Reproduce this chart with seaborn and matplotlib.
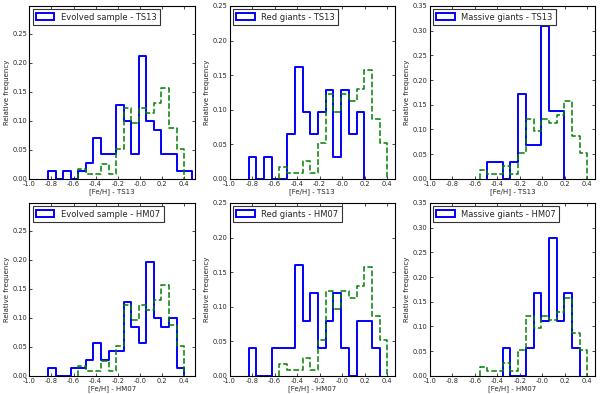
import numpy as np
import pandas as pd
import matplotlib
matplotlib.use('Agg')
import matplotlib.pyplot as plt
from matplotlib.patches import Patch
import seaborn as sns

# common [Fe/H] bin grid
bin_lo, bin_hi, n_bins = -0.83, 0.47, 19

# comparison sample (green dashed), the same in all panels
ref_freq = [0, 0, 0, 0, 0.017, 0.009, 0.009, 0.026, 0.009, 0.052, 0.122, 0.096,
            0.122, 0.113, 0.130, 0.157, 0.087, 0.052, 0]

evolved_ts13 = [0.014, 0, 0.014, 0, 0.014, 0.028, 0.070, 0.042, 0.042, 0.127,
                0.099, 0.042, 0.211, 0.099, 0.085, 0.042, 0.042, 0.014, 0.014]
red_ts13 = [0.032, 0, 0.032, 0, 0, 0.065, 0.161, 0.097, 0.065, 0.097,
            0.129, 0.032, 0.129, 0.065, 0.097, 0, 0, 0, 0]
massive_ts13 = [0, 0, 0, 0, 0, 0.034, 0.034, 0, 0.034, 0.172,
                0.069, 0.069, 0.310, 0.138, 0.138, 0, 0, 0, 0]
evolved_hm07 = [0.014, 0, 0, 0.014, 0.014, 0.028, 0.056, 0.028, 0.042, 0.042,
                0.127, 0.085, 0.056, 0.197, 0.099, 0.085, 0.099, 0.014, 0]
red_hm07 = [0.04, 0, 0, 0.04, 0.04, 0.04, 0.16, 0.08, 0.12, 0.04,
            0.08, 0.12, 0.04, 0, 0.08, 0.08, 0.04, 0, 0]
massive_hm07 = [0, 0, 0, 0, 0, 0, 0, 0.056, 0, 0,
                0.056, 0.167, 0.111, 0.278, 0.111, 0.167, 0.056, 0, 0]

labels = ['Evolved sample - TS13', 'Red giants - TS13', 'Massive giants - TS13',
          'Evolved sample - HM07', 'Red giants - HM07', 'Massive giants - HM07']
xlabels = ['[Fe/H] - TS13'] * 3 + ['[Fe/H] - HM07'] * 3
samples = [evolved_ts13, red_ts13, massive_ts13, evolved_hm07, red_hm07, massive_hm07]
ytops = [0.298, 0.25, 0.35, 0.298, 0.25, 0.35]
xrights = [0.50, 0.47, 0.47, 0.50, 0.47, 0.47]

sns.set_style('ticks', {'xtick.direction': 'in', 'ytick.direction': 'in',
                        'xtick.top': True, 'ytick.right': True,
                        'axes.edgecolor': 'black'})
plt.rcParams['font.family'] = ['DejaVu Sans']
plt.rcParams['axes.linewidth'] = 0.8

edges = np.linspace(bin_lo, bin_hi, n_bins + 1)
centers = (edges[:-1] + edges[1:]) / 2


def draw(ax, freq, color, ls, lw):
    freq = np.asarray(freq)
    nz = np.nonzero(freq)[0]
    i0, i1 = nz[0], nz[-1] + 1
    df = pd.DataFrame({'feh': centers[i0:i1], 'w': freq[i0:i1]})
    sns.histplot(data=df, x='feh', weights='w', bins=list(edges[i0:i1 + 1]),
                 element='step', fill=False, color=color, linestyle=ls,
                 linewidth=lw, ax=ax)
    # close the outline down to zero at both ends, like a step histogram
    line = ax.lines[-1]
    x, y = line.get_data()
    line.set_data(np.r_[x[0], x, x[-1]], np.r_[0, y, 0])


fig, axes = plt.subplots(2, 3, figsize=(6, 3.94), dpi=100)
fig.subplots_adjust(left=0.049, right=0.992, top=0.985, bottom=0.046,
                    wspace=0.209, hspace=0.139)

for ax, freq, lab, xl, yt, xr in zip(axes.flat, samples, labels, xlabels, ytops, xrights):
    draw(ax, freq, '#0000ff', '-', 1.4)
    draw(ax, ref_freq, '#008000', '--', 1.1)
    ax.set_xlim(-1.0, xr)
    ax.set_ylim(0, yt)
    ax.set_xticks(np.arange(-1.0, 0.41, 0.2))
    ax.set_yticks(np.arange(0, yt + 1e-6, 0.05))
    ax.yaxis.set_major_formatter(matplotlib.ticker.FormatStrFormatter('%.2f'))
    ax.xaxis.set_major_formatter(matplotlib.ticker.FormatStrFormatter('%.1f'))
    ax.tick_params(labelsize=4.8, length=2.5, width=0.6, pad=1.5)
    ax.set_xlabel(xl, fontsize=5, labelpad=1)
    ax.set_ylabel('Relative frequency', fontsize=5, labelpad=2)
    handle = Patch(facecolor='white', edgecolor='#0000ff', linewidth=1.4)
    leg = ax.legend([handle], [lab], loc='upper left', fontsize=6, fancybox=False,
                    framealpha=1, borderpad=0.4, handlelength=2.2, handleheight=0.9,
                    borderaxespad=0.4)
    leg.get_frame().set_edgecolor('#333333')
    leg.get_frame().set_linewidth(0.8)

fig.savefig('out.png', dpi=100)
